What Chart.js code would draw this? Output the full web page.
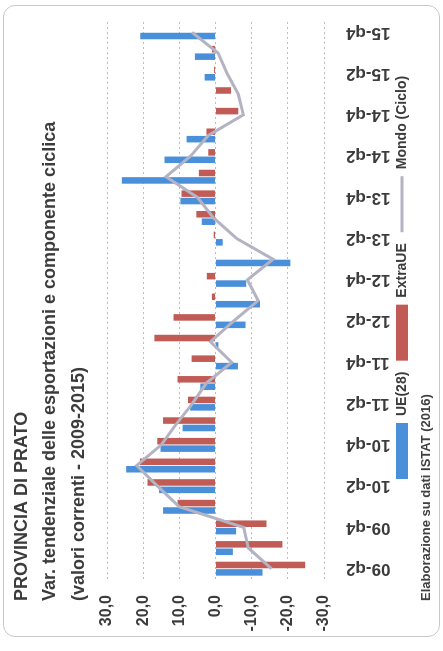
<!DOCTYPE html>
<html><head><meta charset="utf-8">
<script src="https://cdn.jsdelivr.net/npm/chart.js@4.4.1/dist/chart.umd.min.js"></script>
<style>
html,body{margin:0;padding:0;background:#fff;}
body{width:443px;height:651px;overflow:hidden;position:relative;}
#wrap{position:absolute;left:0;top:0;width:651px;height:443px;transform-origin:0 0;transform:translate(0,651px) rotate(-90deg);background:#fff;}
#c{position:absolute;left:0;top:0;}
#frame{position:absolute;left:14px;top:3px;width:630px;height:435px;border:1.5px solid #c8c8c8;border-radius:12px;pointer-events:none;}
#note{position:absolute;left:50px;top:418px;font:bold 13px "Liberation Sans",Arial,sans-serif;color:#404040;line-height:16px;white-space:nowrap;}
</style></head>
<body>
<div id="wrap">
<canvas id="c" width="651" height="443"></canvas>
<div id="frame"></div>
<div id="note">Elaborazione su dati ISTAT (2016)</div>
</div>
<script>
const categories = ['09-q2','09-q3','09-q4','10-q1','10-q2','10-q3','10-q4','11-q1','11-q2','11-q3','11-q4','12-q1','12-q2','12-q3','12-q4','13-q1','13-q2','13-q3','13-q4','14-q1','14-q2','14-q3','14-q4','15-q1','15-q2','15-q3','15-q4'];
const ue28    = [-13.0,-4.8,-5.7,14.5,15.6,24.7,15.2,9.1,7.0,4.2,-6.2,-0.8,-8.3,-12.3,-8.5,-20.7,-2.0,3.8,9.7,25.9,14.1,8.0,0.0,0.0,3.0,5.7,20.8];
const extraUe = [-24.8,-18.5,-14.1,10.5,18.8,20.9,16.1,14.5,7.6,10.5,6.6,16.9,11.6,1.0,2.4,0.0,0.5,5.3,9.4,4.6,2.0,2.5,-6.3,-4.3,0.4,1.0,0.0];
const mondo   = [-15.5,-9.1,-7.8,10.0,16.0,21.8,15.0,10.9,6.4,2.5,-4.5,1.4,-5.0,-11.8,-8.8,-15.9,-5.9,0.5,5.0,13.7,6.9,2.0,-7.7,-6.3,-3.2,-0.7,6.5];
const seriesNames = ['UE(28)','ExtraUE','Mondo (Ciclo)'];
const titleLines = ['PROVINCIA DI PRATO','Var. tendenziale delle esportazioni e componente ciclica','(valori correnti - 2009-2015)'];
const yTicks = {min:-30, max:30, step:10};

const FONT = '"Liberation Sans", Arial, sans-serif';
const TEXT = '#3c3c3c';

const boxNudge = {
  id:'boxNudge',
  afterLayout(chart){
    const t = chart.titleBlock;
    if (t) { t.left += 50; t.right += 50; }
    const lg = chart.legend;
    if(!lg || !lg.lineWidths) return;
    const pad = lg.options.labels.padding;
    const x0 = (lg.left + pad + lg.right - lg.lineWidths[0]) / 2;
    const dx = 172 - x0;
    lg.left += dx; lg.right += dx;
    const dy = 384 - lg.top;
    lg.top += dy; lg.bottom += dy;
  }
};

new Chart(document.getElementById('c'), {
  type:'bar',
  data:{
    labels:categories,
    datasets:[
      {label:seriesNames[0], data:ue28, backgroundColor:'#4a8fd9', borderWidth:0, order:1, categoryPercentage:0.72, barPercentage:0.88},
      {label:seriesNames[1], data:extraUe, backgroundColor:'#c05b55', borderWidth:0, order:1, categoryPercentage:0.72, barPercentage:0.88},
      {type:'line', label:seriesNames[2], data:mondo, borderColor:'#b3b3c3', backgroundColor:'#b3b3c3', borderWidth:3, pointRadius:0, tension:0, order:0}
    ]
  },
  options:{
    responsive:false, animation:false, devicePixelRatio:1,
    layout:{padding:{left:0,right:22,top:0,bottom:4}},
    plugins:{
      tooltip:{enabled:false},
      title:{display:true, text:titleLines, align:'start', color:TEXT,
        font:{family:FONT, size:18, weight:'bold', lineHeight:'28.5px'}, padding:{top:7.75,bottom:13.75}},
      legend:{position:'bottom', align:'center',
        labels:{usePointStyle:true, pointStyleWidth:56, boxHeight:12, padding:11, color:TEXT,
          font:{family:FONT, size:14, weight:'bold'},
          sort:(a,b)=>a.datasetIndex-b.datasetIndex,
          generateLabels:(chart)=>Chart.defaults.plugins.legend.labels.generateLabels(chart).map(l=>Object.assign(l,{pointStyle: l.datasetIndex===2?'line':'rect'}))
        }}
    },
    scales:{
      x:{
        grid:{display:false}, border:{display:false},
        ticks:{autoSkip:false, minRotation:90, maxRotation:90, padding:14, color:TEXT,
          font:{family:FONT, size:17, weight:'bold'},
          callback:(v,i)=> i%2===0 ? categories[i] : ''},
        afterFit:(s)=>{ s.height = 80; s.paddingLeft = 0; s.paddingRight = 0; }
      },
      y:{
        min:yTicks.min, max:yTicks.max,
        grid:{color:'#bdbdbd', lineWidth:1, drawTicks:false},
        border:{display:false, dash:[2,3]},
        ticks:{stepSize:yTicks.step, padding:16, color:TEXT, font:{family:FONT, size:16, weight:'bold'},
          callback:(v)=> v.toFixed(1).replace('.',',')},
        afterFit:(s)=>{ s.width = 72; }
      }
    }
  },
  plugins:[boxNudge]
});
</script>
</body></html>
